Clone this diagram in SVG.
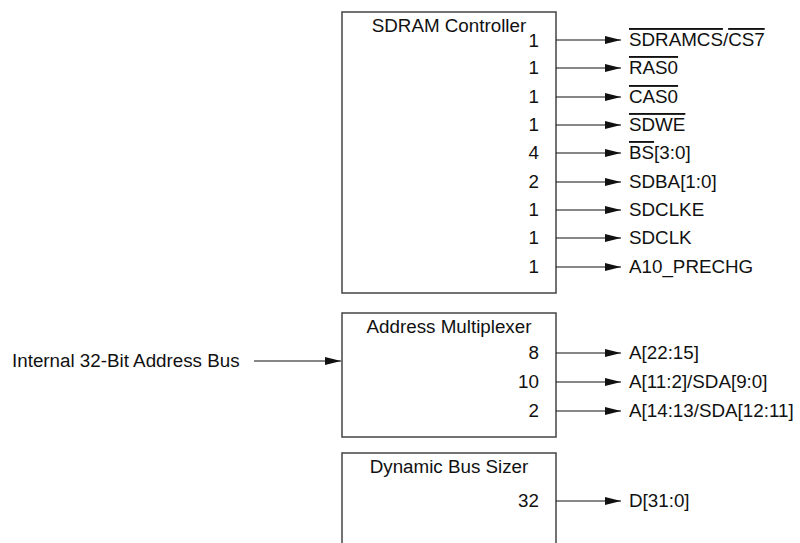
<svg xmlns="http://www.w3.org/2000/svg" width="800" height="543" viewBox="0 0 800 543">
<defs>
<style>
text{font-family:"Liberation Sans",Arial,sans-serif;font-size:18.8px;fill:#111}
.box{fill:#fff;stroke:#444;stroke-width:1.5}
.t{text-anchor:middle}
.n{text-anchor:end}
.w{stroke:#111;stroke-width:1.2;fill:none;marker-end:url(#ah)}
.ov{text-decoration:overline}
</style>
<marker id="ah" markerUnits="userSpaceOnUse" markerWidth="16" markerHeight="8" refX="16" refY="4" orient="auto">
<path d="M0,0 L16,4 L0,8 z" fill="#111"/>
</marker>
</defs>
<rect width="800" height="543" fill="#fff"/>
<g id="sdram">
<rect class="box" x="342" y="12" width="214" height="281"/>
<text class="t" x="449" y="32">SDRAM Controller</text>
<text class="n" x="539" y="47">1</text>
<text class="n" x="539" y="74">1</text>
<text class="n" x="539" y="103">1</text>
<text class="n" x="539" y="131">1</text>
<text class="n" x="539" y="159">4</text>
<text class="n" x="539" y="188">2</text>
<text class="n" x="539" y="216">1</text>
<text class="n" x="539" y="244">1</text>
<text class="n" x="539" y="273">1</text>
</g>
<g id="addrmux">
<rect class="box" x="342" y="313" width="214" height="124"/>
<text class="t" x="449" y="333">Address Multiplexer</text>
<text class="n" x="539" y="359">8</text>
<text class="n" x="539" y="388">10</text>
<text class="n" x="539" y="417">2</text>
</g>
<g id="bussizer">
<rect class="box" x="342" y="453" width="214" height="100"/>
<text class="t" x="449" y="473">Dynamic Bus Sizer</text>
<text class="n" x="539" y="507">32</text>
</g>
<g id="inputs">
<text x="12" y="367">Internal 32-Bit Address Bus</text>
</g>
<g id="labels">
<text x="629" y="46"><tspan class="ov">SDRAMCS</tspan>/<tspan class="ov">CS7</tspan></text>
<text x="629" y="74"><tspan class="ov">RAS0</tspan></text>
<text x="629" y="103"><tspan class="ov">CAS0</tspan></text>
<text x="629" y="131"><tspan class="ov">SDWE</tspan></text>
<text x="629" y="159"><tspan class="ov">BS</tspan>[3:0]</text>
<text x="629" y="188">SDBA[1:0]</text>
<text x="629" y="216">SDCLKE</text>
<text x="629" y="244">SDCLK</text>
<text x="629" y="273">A10_PRECHG</text>
<text x="629" y="359">A[22:15]</text>
<text x="629" y="388">A[11:2]/SDA[9:0]</text>
<text x="629" y="417">A[14:13/SDA[12:11]</text>
<text x="629" y="507">D[31:0]</text>
</g>
<g id="connectors">
<line class="w" x1="556" y1="40" x2="621" y2="40"/>
<line class="w" x1="556" y1="68" x2="621" y2="68"/>
<line class="w" x1="556" y1="97" x2="621" y2="97"/>
<line class="w" x1="556" y1="125" x2="621" y2="125"/>
<line class="w" x1="556" y1="153" x2="621" y2="153"/>
<line class="w" x1="556" y1="182" x2="621" y2="182"/>
<line class="w" x1="556" y1="210" x2="621" y2="210"/>
<line class="w" x1="556" y1="238" x2="621" y2="238"/>
<line class="w" x1="556" y1="267" x2="621" y2="267"/>
<line class="w" x1="556" y1="353" x2="621" y2="353"/>
<line class="w" x1="556" y1="382" x2="621" y2="382"/>
<line class="w" x1="556" y1="411" x2="621" y2="411"/>
<line class="w" x1="556" y1="501" x2="621" y2="501"/>
<line class="w" x1="254" y1="361" x2="341" y2="361"/>
</g>
</svg>
